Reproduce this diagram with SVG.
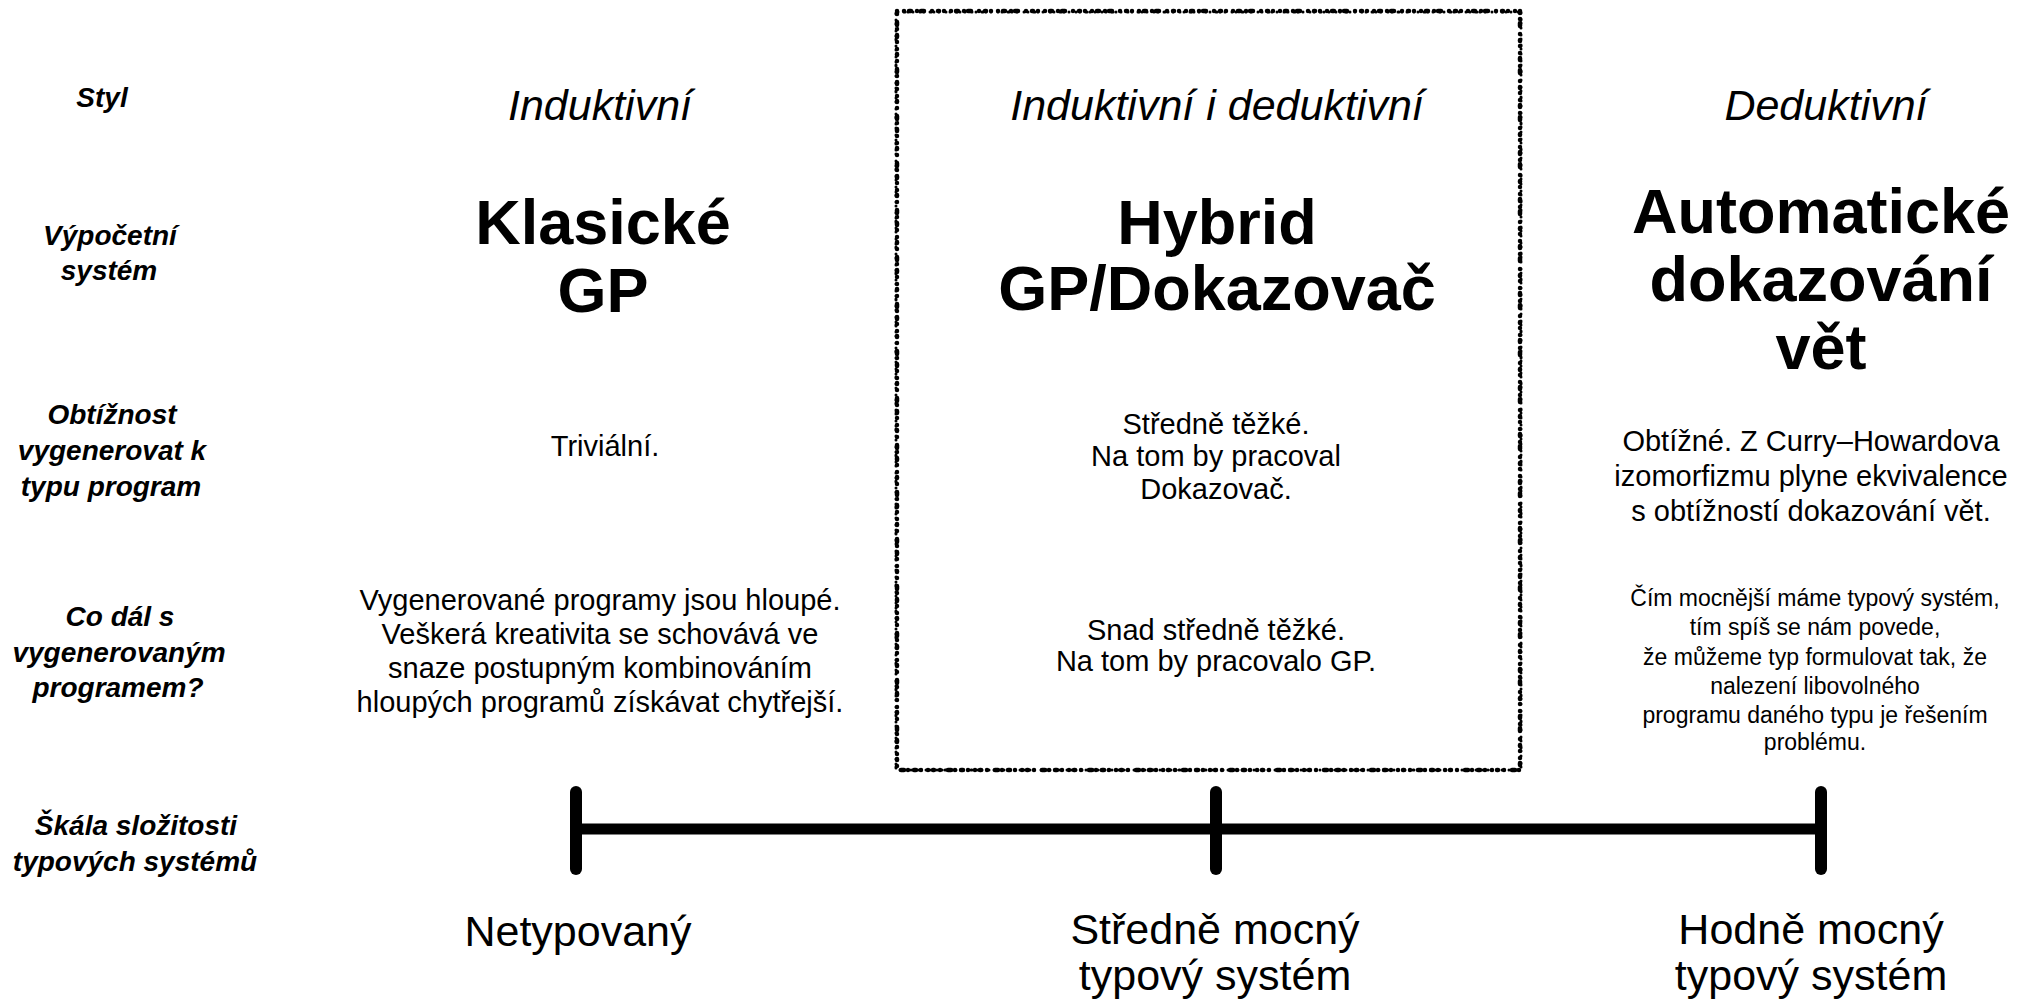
<svg xmlns="http://www.w3.org/2000/svg" width="2028" height="999" viewBox="0 0 2028 999">
<style>
text{font-family:"Liberation Sans",Arial,sans-serif;fill:#000;text-anchor:middle}
.lab{font-weight:bold;font-style:italic;font-size:28px}
.sty{font-style:italic;font-size:43px}
.ttl{font-weight:bold;font-size:63px}
.txt{font-size:29px}
.sm{font-size:23px}
.scl{font-size:43px}
.bar{stroke:#000;stroke-width:11;stroke-linecap:round;fill:none}
.tick{stroke:#000;stroke-width:12;stroke-linecap:round}
.frame{fill:none;stroke:#000;stroke-linecap:round}
.f1{stroke-width:4.5;stroke-dasharray:0 7 0 5 2 6 0 4 3 8 0 6 1 5}
.f2{stroke-width:3;stroke-dasharray:0 4 0 6 1 3 0 5 0 7;stroke-dashoffset:2}
</style>
<rect width="2028" height="999" fill="#fff"/>

<g id="row-labels">
  <text class="lab" x="102" y="107">Styl</text>
  <text class="lab" x="110" y="245">Výpočetní</text>
  <text class="lab" x="109" y="280">systém</text>
  <text class="lab" x="112" y="424">Obtížnost</text>
  <text class="lab" x="112" y="460">vygenerovat k</text>
  <text class="lab" x="111" y="496">typu program</text>
  <text class="lab" x="120" y="626">Co dál s</text>
  <text class="lab" x="119" y="662">vygenerovaným</text>
  <text class="lab" x="118" y="697">programem?</text>
  <text class="lab" x="136" y="835">Škála složitosti</text>
  <text class="lab" x="135" y="871">typových systémů</text>
</g>

<g id="hybrid-frame">
  <rect class="frame f1" x="897" y="11" width="623" height="759"/>
  <rect class="frame f2" x="896" y="12" width="625" height="758"/>
</g>

<g id="col-classic">
  <text class="sty" x="600" y="120">Induktivní</text>
  <text class="ttl" x="603" y="244">Klasické</text>
  <text class="ttl" x="603" y="312">GP</text>
  <text class="txt" x="605" y="456">Triviální.</text>
  <text class="txt" x="600" y="610">Vygenerované programy jsou hloupé.</text>
  <text class="txt" x="600" y="644">Veškerá kreativita se schovává ve</text>
  <text class="txt" x="600" y="678">snaze postupným kombinováním</text>
  <text class="txt" x="600" y="712">hloupých programů získávat chytřejší.</text>
</g>

<g id="col-hybrid">
  <text class="sty" x="1217" y="120">Induktivní i deduktivní</text>
  <text class="ttl" x="1217" y="244">Hybrid</text>
  <text class="ttl" x="1217" y="310">GP/Dokazovač</text>
  <text class="txt" x="1216" y="434">Středně těžké.</text>
  <text class="txt" x="1216" y="466">Na tom by pracoval</text>
  <text class="txt" x="1216" y="499">Dokazovač.</text>
  <text class="txt" x="1216" y="640">Snad středně těžké.</text>
  <text class="txt" x="1216" y="671">Na tom by pracovalo GP.</text>
</g>

<g id="col-deductive">
  <text class="sty" x="1826" y="120">Deduktivní</text>
  <text class="ttl" x="1821" y="233">Automatické</text>
  <text class="ttl" x="1821" y="301">dokazování</text>
  <text class="ttl" x="1821" y="369">vět</text>
  <text class="txt" x="1811" y="451">Obtížné. Z Curry–Howardova</text>
  <text class="txt" x="1811" y="486">izomorfizmu plyne ekvivalence</text>
  <text class="txt" x="1811" y="521">s obtížností dokazování vět.</text>
  <text class="sm" x="1815" y="606">Čím mocnější máme typový systém,</text>
  <text class="sm" x="1815" y="635">tím spíš se nám povede,</text>
  <text class="sm" x="1815" y="665">že můžeme typ formulovat tak, že</text>
  <text class="sm" x="1815" y="694">nalezení libovolného</text>
  <text class="sm" x="1815" y="723">programu daného typu je řešením</text>
  <text class="sm" x="1815" y="750">problému.</text>
</g>

<g id="connectors">
  <line class="bar" x1="576" y1="829" x2="1821" y2="829"/>
  <line class="tick" x1="576" y1="792" x2="576" y2="869"/>
  <line class="tick" x1="1216" y1="792" x2="1216" y2="869"/>
  <line class="tick" x1="1821" y1="792" x2="1821" y2="869"/>
</g>

<g id="scale-labels">
  <text class="scl" x="578" y="946">Netypovaný</text>
  <text class="scl" x="1215" y="944">Středně mocný</text>
  <text class="scl" x="1215" y="990">typový systém</text>
  <text class="scl" x="1811" y="944">Hodně mocný</text>
  <text class="scl" x="1811" y="990">typový systém</text>
</g>
</svg>
